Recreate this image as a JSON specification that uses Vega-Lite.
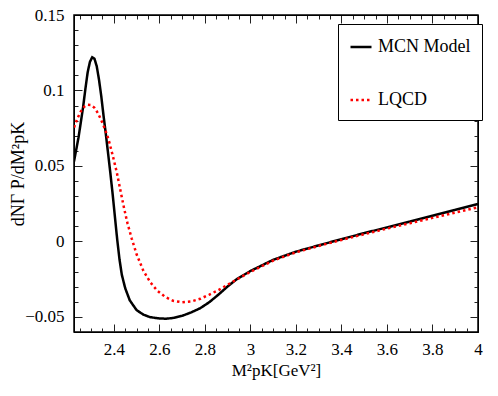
{
  "$schema": "https://vega.github.io/schema/vega-lite/v6.json",
  "width": 404,
  "height": 317,
  "autosize": {"type": "none"},
  "padding": {"left": 74, "top": 15, "right": 20, "bottom": 64},
  "background": "white",
  "config": {
    "view": {"stroke": "black", "strokeWidth": 1.5},
    "font": "Liberation Serif"
  },
  "data": {"values": [
    {"x": 2.225, "y": 0.053, "s": "MCN Model"},
    {"x": 2.235, "y": 0.061, "s": "MCN Model"},
    {"x": 2.245, "y": 0.069, "s": "MCN Model"},
    {"x": 2.255, "y": 0.079, "s": "MCN Model"},
    {"x": 2.265, "y": 0.089, "s": "MCN Model"},
    {"x": 2.275, "y": 0.101, "s": "MCN Model"},
    {"x": 2.285, "y": 0.112, "s": "MCN Model"},
    {"x": 2.295, "y": 0.119, "s": "MCN Model"},
    {"x": 2.305, "y": 0.122, "s": "MCN Model"},
    {"x": 2.315, "y": 0.121, "s": "MCN Model"},
    {"x": 2.325, "y": 0.116, "s": "MCN Model"},
    {"x": 2.335, "y": 0.107, "s": "MCN Model"},
    {"x": 2.345, "y": 0.096, "s": "MCN Model"},
    {"x": 2.355, "y": 0.083, "s": "MCN Model"},
    {"x": 2.365, "y": 0.071, "s": "MCN Model"},
    {"x": 2.375, "y": 0.058, "s": "MCN Model"},
    {"x": 2.385, "y": 0.045, "s": "MCN Model"},
    {"x": 2.395, "y": 0.031, "s": "MCN Model"},
    {"x": 2.405, "y": 0.016, "s": "MCN Model"},
    {"x": 2.415, "y": 0.001, "s": "MCN Model"},
    {"x": 2.425, "y": -0.012, "s": "MCN Model"},
    {"x": 2.435, "y": -0.022, "s": "MCN Model"},
    {"x": 2.45, "y": -0.031, "s": "MCN Model"},
    {"x": 2.47, "y": -0.039, "s": "MCN Model"},
    {"x": 2.5, "y": -0.0455, "s": "MCN Model"},
    {"x": 2.53, "y": -0.0485, "s": "MCN Model"},
    {"x": 2.56, "y": -0.0502, "s": "MCN Model"},
    {"x": 2.6, "y": -0.051, "s": "MCN Model"},
    {"x": 2.63, "y": -0.0512, "s": "MCN Model"},
    {"x": 2.66, "y": -0.0507, "s": "MCN Model"},
    {"x": 2.7, "y": -0.0493, "s": "MCN Model"},
    {"x": 2.74, "y": -0.047, "s": "MCN Model"},
    {"x": 2.78, "y": -0.0442, "s": "MCN Model"},
    {"x": 2.82, "y": -0.0402, "s": "MCN Model"},
    {"x": 2.86, "y": -0.0352, "s": "MCN Model"},
    {"x": 2.9, "y": -0.0298, "s": "MCN Model"},
    {"x": 2.94, "y": -0.025, "s": "MCN Model"},
    {"x": 3.0, "y": -0.0196, "s": "MCN Model"},
    {"x": 3.1, "y": -0.0122, "s": "MCN Model"},
    {"x": 3.2, "y": -0.0068, "s": "MCN Model"},
    {"x": 3.3, "y": -0.0026, "s": "MCN Model"},
    {"x": 3.4, "y": 0.0015, "s": "MCN Model"},
    {"x": 3.5, "y": 0.0055, "s": "MCN Model"},
    {"x": 3.6, "y": 0.0093, "s": "MCN Model"},
    {"x": 3.7, "y": 0.0131, "s": "MCN Model"},
    {"x": 3.8, "y": 0.017, "s": "MCN Model"},
    {"x": 3.9, "y": 0.0209, "s": "MCN Model"},
    {"x": 4.0, "y": 0.0248, "s": "MCN Model"},
    {"x": 2.225, "y": 0.0755, "s": "LQCD"},
    {"x": 2.24, "y": 0.0815, "s": "LQCD"},
    {"x": 2.255, "y": 0.0862, "s": "LQCD"},
    {"x": 2.27, "y": 0.0893, "s": "LQCD"},
    {"x": 2.285, "y": 0.0905, "s": "LQCD"},
    {"x": 2.3, "y": 0.0903, "s": "LQCD"},
    {"x": 2.315, "y": 0.0885, "s": "LQCD"},
    {"x": 2.33, "y": 0.085, "s": "LQCD"},
    {"x": 2.345, "y": 0.0802, "s": "LQCD"},
    {"x": 2.36, "y": 0.0748, "s": "LQCD"},
    {"x": 2.376, "y": 0.068, "s": "LQCD"},
    {"x": 2.395, "y": 0.057, "s": "LQCD"},
    {"x": 2.413, "y": 0.0458, "s": "LQCD"},
    {"x": 2.43, "y": 0.033, "s": "LQCD"},
    {"x": 2.445, "y": 0.022, "s": "LQCD"},
    {"x": 2.46, "y": 0.012, "s": "LQCD"},
    {"x": 2.479, "y": 0.0017, "s": "LQCD"},
    {"x": 2.5, "y": -0.0085, "s": "LQCD"},
    {"x": 2.53, "y": -0.0195, "s": "LQCD"},
    {"x": 2.56, "y": -0.027, "s": "LQCD"},
    {"x": 2.59, "y": -0.0325, "s": "LQCD"},
    {"x": 2.626, "y": -0.0368, "s": "LQCD"},
    {"x": 2.66, "y": -0.0393, "s": "LQCD"},
    {"x": 2.7, "y": -0.0403, "s": "LQCD"},
    {"x": 2.74, "y": -0.0398, "s": "LQCD"},
    {"x": 2.78, "y": -0.038, "s": "LQCD"},
    {"x": 2.82, "y": -0.0352, "s": "LQCD"},
    {"x": 2.86, "y": -0.0322, "s": "LQCD"},
    {"x": 2.9, "y": -0.0287, "s": "LQCD"},
    {"x": 2.94, "y": -0.0252, "s": "LQCD"},
    {"x": 3.0, "y": -0.0202, "s": "LQCD"},
    {"x": 3.1, "y": -0.0127, "s": "LQCD"},
    {"x": 3.2, "y": -0.0072, "s": "LQCD"},
    {"x": 3.3, "y": -0.003, "s": "LQCD"},
    {"x": 3.4, "y": 0.001, "s": "LQCD"},
    {"x": 3.5, "y": 0.0048, "s": "LQCD"},
    {"x": 3.6, "y": 0.0085, "s": "LQCD"},
    {"x": 3.7, "y": 0.0121, "s": "LQCD"},
    {"x": 3.8, "y": 0.0156, "s": "LQCD"},
    {"x": 3.9, "y": 0.0191, "s": "LQCD"},
    {"x": 4.0, "y": 0.0226, "s": "LQCD"}
  ]},
  "layer": [
    {
      "mark": {"type": "line", "strokeWidth": 2.5, "clip": true},
      "encoding": {
        "x": {"field": "x", "type": "quantitative", "scale": {"domain": [2.225, 4], "nice": false, "zero": false},
          "axis": {"orient": "bottom", "grid": false, "domainColor": "black", "values": [2.4, 2.6, 2.8, 3, 3.2, 3.4, 3.6, 3.8, 4], "ticks": false, "labelPadding": 9, "labelFontSize": 17, "labelFont": "Liberation Serif", "labelColor": "black", "labelExpr": "'' + datum.value", "title": "M²pK[GeV²]", "titleFont": "Liberation Serif", "titleFontWeight": "normal", "titleColor": "black", "titleFontSize": 17, "titlePadding": 5, "labelFlush": false, "labelOverlap": false}},
        "y": {"field": "y", "type": "quantitative", "scale": {"domain": [-0.06, 0.15], "nice": false, "zero": false},
          "axis": {"orient": "left", "grid": false, "domainColor": "black", "values": [-0.05, 0, 0.05, 0.1, 0.15], "ticks": false, "labelPadding": 10, "labelFontSize": 17, "labelFont": "Liberation Serif", "labelColor": "black", "labelExpr": "datum.value < 0 ? '−' + abs(datum.value) : '' + datum.value", "title": "dNΓ P/dM²pK", "titleFont": "Liberation Serif", "titleFontWeight": "normal", "titleColor": "black", "titleFontSize": 18, "titlePadding": -3, "labelFlush": false, "labelOverlap": false}},
        "color": {"field": "s", "type": "nominal", "scale": {"domain": ["MCN Model", "LQCD"], "range": ["#000000", "#ff0000"]},
          "legend": {"title": null, "orient": "none", "legendX": 264, "legendY": 9, "padding": 11, "strokeColor": "black", "fillColor": "white", "labelFont": "Liberation Serif", "labelFontSize": 18, "labelColor": "black", "symbolType": "stroke", "symbolSize": 441, "symbolStrokeWidth": 2.5, "rowPadding": 32, "labelOffset": 5, "labelLimit": 200}},
        "strokeDash": {"field": "s", "type": "nominal", "scale": {"domain": ["MCN Model", "LQCD"], "range": [[1, 0], [2.5, 3]]},
          "legend": {"title": null}}
      }
    },
    {
      "mark": {"type": "point", "opacity": 0},
      "encoding": {
        "x": {"field": "x", "type": "quantitative", "scale": {"domain": [2.225, 4], "nice": false, "zero": false},
          "axis": {"orient": "top", "offset": -317, "grid": false, "domainColor": "black", "values": [2.25, 2.3, 2.35, 2.4, 2.45, 2.5, 2.55, 2.6, 2.65, 2.7, 2.75, 2.8, 2.85, 2.9, 2.95, 3, 3.05, 3.1, 3.15, 3.2, 3.25, 3.3, 3.35, 3.4, 3.45, 3.5, 3.55, 3.6, 3.65, 3.7, 3.75, 3.8, 3.85, 3.9, 3.95], "tickColor": "#222222", "tickSize": {"condition": {"test": "indexof([2.4, 2.6, 2.8, 3, 3.2, 3.4, 3.6, 3.8], datum.value) >= 0", "value": 8}, "value": 4}, "labelOpacity": 0, "labelFontSize": 1, "title": null}},
        "y": {"field": "y", "type": "quantitative", "scale": {"domain": [-0.06, 0.15], "nice": false, "zero": false},
          "axis": {"orient": "right", "offset": -404, "grid": false, "domainColor": "black", "values": [-0.05, -0.04, -0.03, -0.02, -0.01, 0, 0.01, 0.02, 0.03, 0.04, 0.05, 0.06, 0.07, 0.08, 0.09, 0.1, 0.11, 0.12, 0.13, 0.14], "tickColor": "#222222", "tickSize": {"condition": {"test": "indexof([-0.05, 0, 0.05, 0.1], datum.value) >= 0", "value": 8}, "value": 4}, "labelOpacity": 0, "labelFontSize": 1, "title": null}}
      }
    },
    {
      "mark": {"type": "point", "opacity": 0},
      "encoding": {
        "x": {"field": "x", "type": "quantitative", "scale": {"domain": [2.225, 4], "nice": false, "zero": false},
          "axis": {"orient": "bottom", "offset": -317, "grid": false, "domainColor": "black", "values": [2.25, 2.3, 2.35, 2.4, 2.45, 2.5, 2.55, 2.6, 2.65, 2.7, 2.75, 2.8, 2.85, 2.9, 2.95, 3, 3.05, 3.1, 3.15, 3.2, 3.25, 3.3, 3.35, 3.4, 3.45, 3.5, 3.55, 3.6, 3.65, 3.7, 3.75, 3.8, 3.85, 3.9, 3.95], "tickColor": "#222222", "tickSize": {"condition": {"test": "indexof([2.4, 2.6, 2.8, 3, 3.2, 3.4, 3.6, 3.8], datum.value) >= 0", "value": 8}, "value": 4}, "labelOpacity": 0, "labelFontSize": 1, "title": null}},
        "y": {"field": "y", "type": "quantitative", "scale": {"domain": [-0.06, 0.15], "nice": false, "zero": false},
          "axis": {"orient": "left", "offset": -404, "grid": false, "domainColor": "black", "values": [-0.05, -0.04, -0.03, -0.02, -0.01, 0, 0.01, 0.02, 0.03, 0.04, 0.05, 0.06, 0.07, 0.08, 0.09, 0.1, 0.11, 0.12, 0.13, 0.14], "tickColor": "#222222", "tickSize": {"condition": {"test": "indexof([-0.05, 0, 0.05, 0.1], datum.value) >= 0", "value": 8}, "value": 4}, "labelOpacity": 0, "labelFontSize": 1, "title": null}}
      }
    }
  ],
  "resolve": {"axis": {"x": "independent", "y": "independent"}}
}
